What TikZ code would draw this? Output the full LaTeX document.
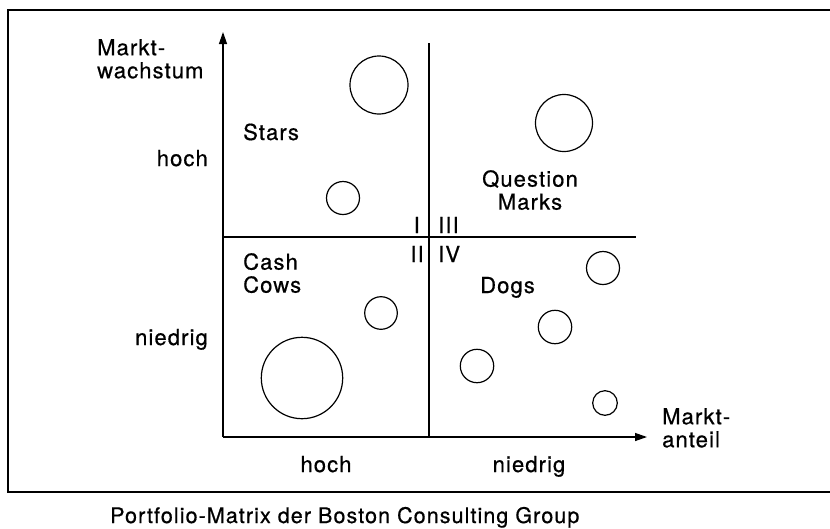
\documentclass[tikz,border=0pt]{standalone}
\usepackage{fontspec}
\setmainfont{TeX Gyre Heros}[LetterSpace=5, FakeBold=0.6]
\usepackage{tikz}
\usetikzlibrary{positioning,arrows.meta}

\begin{document}
\begin{tikzpicture}[
  x=1pt, y=-1pt,
  lbl/.style={font=\fontsize{22}{23}\selectfont, inner sep=0pt},
  capt/.style={font=\fontsize{21.5}{22}\selectfont, inner sep=0pt},
  frameline/.style={draw=black, line width=1.8pt},
  axis/.style={draw=black, line width=1.3pt, -{Triangle[length=12pt,width=8pt]}},
  divider/.style={draw=black, line width=1.3pt},
  bubble/.style={draw=black, line width=1.2pt}
]
\useasboundingbox (0,0) rectangle (830,528);

% frame, open to the right
\draw[frameline] (830,10) -- (8,10) -- (8,492) -- (830,492);

\coordinate (orig) at (223,437);
\coordinate (ytip) at (223,32);
\coordinate (xtip) at (647,437);
\coordinate (vtop) at (429,43);
\coordinate (vbot) at (429,437);
\coordinate (hleft) at (223,237);
\coordinate (hright) at (636,237);

\draw[axis] (orig) -- (ytip);
\draw[axis] (orig) -- (xtip);
\draw[divider] (vtop) -- (vbot);
\draw[divider] (hleft) -- (hright);

% bubbles
\draw[bubble] (379,85) circle (29);
\draw[bubble] (343,198) circle (16.5);
\draw[bubble] (564,123) circle (28.5);
\draw[bubble] (381,313) circle (16.3);
\draw[bubble] (302,378) circle (40.7);
\draw[bubble] (603,268) circle (16.5);
\draw[bubble] (555,327) circle (16.7);
\draw[bubble] (477,366) circle (16.7);
\draw[bubble] (605,403) circle (12.3);

% axis labels
\node[lbl, align=left, anchor=north west] (ylab) at (97,39) {Markt-\\wachstum};
\node[lbl, align=left, anchor=north west] (xlab) at (662,408) {Markt-\\anteil};
\node[lbl, anchor=base east] (yhigh) at (208,166) {hoch};
\node[lbl, anchor=base east] (ylow) at (208,345) {niedrig};
\node[lbl, anchor=base] (xhigh) at (326,472) {hoch};
\node[lbl, anchor=base] (xlow) at (529,472) {niedrig};

% quadrants
\node[lbl, anchor=base west] (stars) at (243,140) {Stars};
\node[lbl, align=left, anchor=north west] (cows) at (243,253) {Cash\\Cows};
\node[lbl, align=center, anchor=north] (qm) at (530,170) {Question\\Marks};
\node[lbl, anchor=base west] (dogs) at (480,293) {Dogs};
\node[lbl, anchor=base east] (q1) at (420,233) {I};
\node[lbl, anchor=base west] (q3) at (438,233) {III};
\node[lbl, anchor=base east] (q2) at (424,262) {II};
\node[lbl, anchor=base west] (q4) at (438,262) {IV};

\node[capt, anchor=base west] (caption) at (110,523) {Portfolio-Matrix der Boston Consulting Group};

\end{tikzpicture}
\end{document}
